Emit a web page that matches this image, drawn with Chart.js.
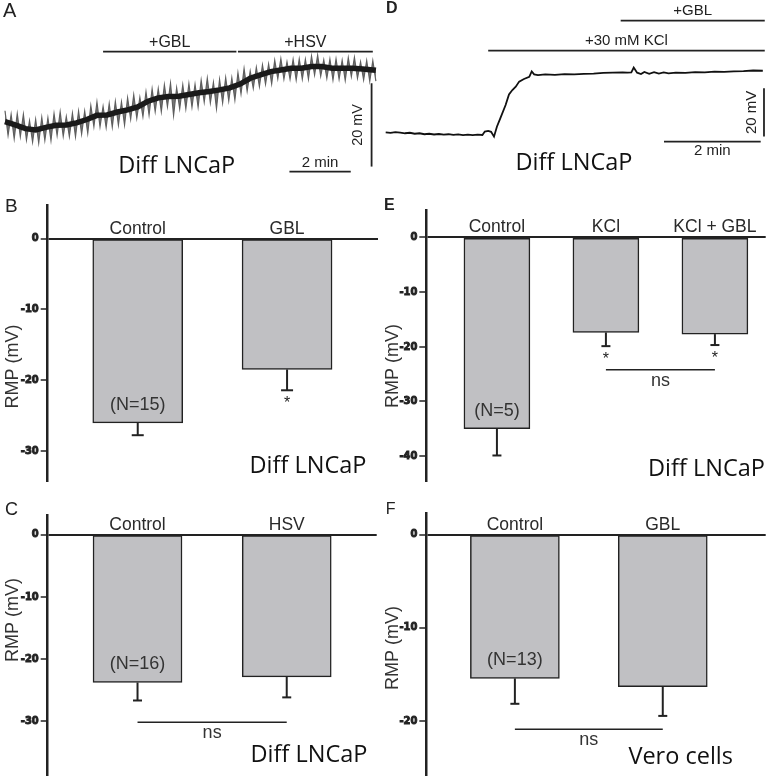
<!DOCTYPE html>
<html><head><meta charset="utf-8">
<script src="https://cdn.jsdelivr.net/npm/chart.js@4/dist/chart.umd.min.js"></script>
<style>
html,body{margin:0;padding:0;background:#fff;}
#wrap{position:relative;width:768px;height:784px;overflow:hidden;background:#fff;}
canvas{position:absolute;}
</style></head><body>
<div id="wrap">
<canvas id="cA" width="384" height="190" style="left:0;top:0"></canvas>
<canvas id="cD" width="384" height="190" style="left:384px;top:0"></canvas>
<canvas id="cB" width="384" height="300" style="left:0;top:190px"></canvas>
<canvas id="cE" width="384" height="300" style="left:384px;top:190px"></canvas>
<canvas id="cC" width="384" height="294" style="left:0;top:490px"></canvas>
<canvas id="cF" width="384" height="294" style="left:384px;top:490px"></canvas>
</div>
<script>
// ---------------- DATA ----------------
// Panel A: membrane potential trace (minutes, mV)
const traceA_rawTime = [0,0.1,0.2,0.3,0.4,0.5,0.6,0.7,0.8,0.9,1.0,1.1,1.2,1.3,1.4,1.5,1.6,1.7,1.8,1.9,2.0,2.1,2.2,2.3,2.4,2.5,2.6,2.7,2.8,2.9,3.0,3.1,3.2,3.3,3.4,3.5,3.6,3.7,3.8,3.9,4.0,4.1,4.2,4.3,4.4,4.5,4.6,4.7,4.8,4.9,5.0,5.1,5.2,5.3,5.4,5.5,5.6,5.7,5.8,5.9,6.0,6.1,6.2,6.3,6.4,6.5,6.6,6.7,6.8,6.9,7.0,7.1,7.2,7.3,7.4,7.5,7.6,7.7,7.8,7.9,8.0,8.1,8.2,8.3,8.4,8.5,8.6,8.7,8.8,8.9,9.0,9.1,9.2,9.3,9.4,9.5,9.6,9.7,9.8,9.9,10.0,10.1,10.2,10.3,10.4,10.5,10.6,10.7,10.8,10.9,11.0,11.1,11.2,11.3,11.4,11.5,11.6,11.7,11.8,11.9,12.0,12.1];
const traceA_rawMV = [-23.3,-29.2,-24.2,-30.0,-24.0,-29.5,-24.2,-30.3,-25.7,-30.8,
 -25.4,-31.0,-24.9,-30.4,-25.0,-30.4,-24.0,-29.2,-23.6,-29.4,
 -24.7,-29.5,-23.9,-29.5,-23.4,-28.9,-23.4,-28.7,-22.1,-27.1,
 -21.2,-27.1,-22.3,-27.3,-21.6,-27.2,-21.1,-26.7,-21.2,-26.7,
 -20.2,-25.3,-19.5,-25.1,-20.1,-24.7,-18.8,-24.3,-18.1,-23.5,
 -18.0,-23.5,-17.1,-22.3,-16.7,-24.4,-17.8,-22.8,-17.1,-22.8,
 -16.8,-22.4,-17.0,-22.4,-16.0,-21.2,-15.5,-21.4,-16.5,-22.8,
 -15.8,-21.4,-15.4,-20.9,-15.4,-20.7,-14.2,-19.2,-13.2,-18.6,
 -13.8,-17.9,-12.9,-17.5,-12.3,-16.9,-12.1,-16.8,-11.2,-15.6,
 -10.8,-15.7,-11.6,-15.7,-11.0,-15.9,-10.9,-15.7,-11.0,-15.7,
 -10.2,-14.7,-10.0,-15.0,-11.1,-15.5,-10.9,-15.9,-10.9,-15.7,
 -11.2,-16.0,-10.6,-15.1,-10.5,-15.5,-11.6,-15.9,-11.3,-16.2,
 -11.3,-16.2];
const traceA_meanTime = [0,0.33,0.67,1,1.33,1.67,2,2.33,2.67,3,3.33,3.67,4,4.33,4.67,5,5.33,5.67,6,6.33,6.67,7,7.33,7.67,8,8.33,8.67,9,9.33,9.67,10,10.33,10.67,11,11.33,11.67,12,12.1];
const traceA_meanMV = [-25.9,-26.7,-27.6,-27.9,-27.3,-26.8,-26.7,-26.2,-25.4,-24.4,-24.3,-23.6,-23.1,-22.4,-21.0,-20.2,-19.9,-19.8,-19.4,-19.0,-18.7,-18.3,-17.8,-16.9,-15.5,-14.7,-13.9,-13.5,-13.1,-13.1,-12.7,-12.7,-13.1,-13.1,-13.1,-13.3,-13.5,-13.6];
const treatA_labels = ['+GBL','+HSV'];
const treatA_start = [3.2, 7.6];
const treatA_end = [7.55, 12.0];

// Panel D: trace with KCl then GBL
const traceD_time = [0,0.1,0.2,0.3,0.4,0.5,0.6,0.7,0.8,0.9,1.0,1.1,1.2,1.3,1.4,1.5,1.6,1.7,1.8,1.9,2.0,2.05,2.12,2.18,2.24,2.3,2.37,2.48,2.55,2.62,2.69,2.76,2.86,2.97,3.02,3.07,3.15,3.3,3.5,3.7,3.9,4.1,4.3,4.5,4.7,4.9,5.0,5.08,5.13,5.2,5.28,5.35,5.45,5.55,5.65,5.75,5.85,6.0,6.2,6.4,6.6,6.8,7.0,7.2,7.4,7.6,7.8];
const traceD_mV = [-34.6,-34.8,-34.5,-34.7,-35.0,-34.8,-35.2,-35.0,-35.4,-35.2,-35.5,-35.3,-35.6,-35.4,-35.7,-35.5,-35.8,-35.6,-35.8,-35.6,-35.7,
 -34.3,-34.0,-34.4,-36.4,-32.3,-28.8,-23.3,-18.9,-17.1,-15.7,-13.6,-12.5,-11.6,-9.4,-10.6,-10.9,
 -10.6,-10.8,-10.5,-10.6,-10.4,-10.3,-10.0,-9.9,-9.8,
 -9.9,-9.8,-7.8,-9.9,-10.5,-9.6,-10.4,-9.7,-10.3,-9.8,-10.2,
 -9.9,-10.0,-9.7,-9.8,-9.5,-9.6,-9.4,-9.3,-9.0,-9.1];
const treatD_labels = ['+30 mM KCl','+GBL'];
const treatD_start = [2.12, 4.86];
const treatD_end = [7.84, 7.84];

const scaleBarMV = 20;   // mV
const scaleBarMin = 2;   // min

// Bar panels: resting membrane potential (mV)
const yTitle = 'RMP (mV)';
const catB = ['Control','GBL'];
const valB = [-26.05, -18.5];
const errB = [1.75, 2.95];
const sigB = ['', '*'];
const nB = '(N=15)';

const catC = ['Control','HSV'];
const valC = [-23.8, -22.9];
const errC = [2.9, 3.3];
const sigC = ['', ''];
const nC = '(N=16)';
const nsC = [0, 1];

const catE = ['Control','KCl','KCl + GBL'];
const valE = [-35.0, -17.4, -17.7];
const errE = [4.9, 2.5, 2.0];
const sigE = ['', '*', '*'];
const nE = '(N=5)';
const nsE = [1, 2];

const catF = ['Control','GBL'];
const valF = [-15.45, -16.33];
const errF = [2.73, 3.15];
const sigF = ['', ''];
const nF = '(N=13)';
const nsF = [0, 1];

// ---------------- DRAWING ----------------
Chart.defaults.font.family = "Arial, 'Liberation Sans', sans-serif";
Chart.defaults.color = '#222';
const INK = '#222';
const SANS = "Arial, 'Liberation Sans', sans-serif";
const CELL = "'Open Sans', 'Noto Sans', sans-serif";

function drawText(ctx, s, x, y, font, align, baseline, rot, color) {
  ctx.save();
  ctx.font = font; ctx.fillStyle = color || INK;
  ctx.textAlign = align || 'center'; ctx.textBaseline = baseline || 'alphabetic';
  if (rot) { ctx.translate(x, y); ctx.rotate(rot); ctx.fillText(s, 0, 0); }
  else ctx.fillText(s, x, y);
  ctx.restore();
}
function seg(ctx, x1, y1, x2, y2, w) {
  ctx.save(); ctx.strokeStyle = INK; ctx.lineWidth = w; ctx.lineCap = 'butt';
  ctx.beginPath(); ctx.moveTo(x1, y1); ctx.lineTo(x2, y2); ctx.stroke(); ctx.restore();
}

function makeBarPanel(id, d, L) {
  const points = d.values.map((v, i) => ({ x: i, y: v }));
  new Chart(document.getElementById(id), {
    type: 'bar',
    data: { datasets: [{ data: points, backgroundColor: '#c0c0c3', borderColor: INK,
      borderWidth: 1.5, borderSkipped: false, barThickness: L.barPx }] },
    options: {
      responsive: false, animation: false,
      layout: { padding: L.pad },
      plugins: { legend: { display: false }, tooltip: { enabled: false } },
      scales: {
        x: { type: 'linear', display: false, min: L.xMin, max: L.xMax, offset: false, grid: { offset: false } },
        y: {
          min: L.yMin, max: L.yMax,
          afterFit: s => { s.width = L.axisW; },
          border: { display: true, color: INK, width: 2.5 },
          grid: { color: c => (c.tick && c.tick.value === 0) ? INK : 'rgba(0,0,0,0)', lineWidth: 2,
                  tickColor: INK, tickLength: 7, tickWidth: 1.5, drawTicks: true },
          ticks: { stepSize: 10, includeBounds: false, padding: 2, color: INK,
                   textStrokeColor: INK, textStrokeWidth: 0.9,
                   font: { family: "'Liberation Sans Narrow','Arial Narrow','DejaVu Sans Condensed',sans-serif", weight: 'bold', size: 11 } }
        }
      }
    },
    plugins: [{
      id: 'annot_' + id,
      afterDatasetsDraw(chart) {
        const ctx = chart.ctx, xs = chart.scales.x, ys = chart.scales.y;
        const y0 = ys.getPixelForValue(0);
        d.values.forEach((v, i) => {
          const xp = xs.getPixelForValue(i);
          const yb = ys.getPixelForValue(v);
          const ye = ys.getPixelForValue(v - d.errors[i]);
          seg(ctx, xp, yb, xp, ye, 2);
          seg(ctx, xp - L.cap / 2, ye, xp + L.cap / 2, ye, 2);
          if (d.sig[i]) drawText(ctx, d.sig[i], xp, ye + 18, '16px ' + SANS);
          drawText(ctx, d.categories[i], xp, y0 - 5, '17.5px ' + SANS, 'center', 'alphabetic', 0, '#2a2a2a');
        });
        drawText(ctx, d.nText, xs.getPixelForValue(0), ys.getPixelForValue(d.values[0]) - 13, '18px ' + SANS, 'center', 'alphabetic', 0, '#333');
        if (d.ns) {
          const a = xs.getPixelForValue(d.ns[0]), b = xs.getPixelForValue(d.ns[1]);
          const yl = ys.getPixelForValue(L.nsLevel);
          seg(ctx, a, yl, b, yl, 1.5);
          drawText(ctx, 'ns', (a + b) / 2, yl + 16, '18px ' + SANS, 'center', 'alphabetic', 0, '#333');
        }
        drawText(ctx, yTitle, L.titleX, L.titleY, '18px ' + SANS, 'center', 'middle', -Math.PI / 2, '#333');
        drawText(ctx, L.letter, L.letterX, L.letterY, L.letterFont, 'left');
        drawText(ctx, L.cell, L.cellX, L.cellY, '23.5px ' + CELL, 'center', 'alphabetic', 0, '#111');
      }
    }]
  });
}

function makeTracePanel(id, series, tr, T) {
  new Chart(document.getElementById(id), {
    type: 'line',
    data: { datasets: series.map(s => ({
      data: s.t.map((t, i) => ({ x: t, y: s.v[i] })),
      borderColor: s.color, borderWidth: s.width, pointRadius: 0, tension: 0,
      fill: s.fill === undefined ? false : s.fill, backgroundColor: s.bg || 'transparent'
    })) },
    options: {
      responsive: false, animation: false,
      layout: { padding: 0 },
      plugins: { legend: { display: false }, tooltip: { enabled: false } },
      scales: {
        x: { type: 'linear', display: false, min: T.xMin, max: T.xMax },
        y: { type: 'linear', display: false, min: T.yMin, max: T.yMax }
      }
    },
    plugins: [{
      id: 'annot_' + id,
      afterDatasetsDraw(chart) {
        const ctx = chart.ctx, xs = chart.scales.x, ys = chart.scales.y;
        tr.labels.forEach((lab, i) => {
          const x1 = xs.getPixelForValue(tr.start[i]), x2 = xs.getPixelForValue(tr.end[i]);
          const yl = ys.getPixelForValue(T.levels[i]);
          seg(ctx, x1, yl, x2, yl, 1.8);
          drawText(ctx, lab, (x1 + x2) / 2, yl - T.labelGap, T.labelFont);
        });
        // vertical scale bar
        const vx = xs.getPixelForValue(T.vbarT);
        const vy1 = ys.getPixelForValue(T.vbarTop), vy2 = ys.getPixelForValue(T.vbarTop - scaleBarMV);
        seg(ctx, vx, vy1, vx, vy2, 1.8);
        drawText(ctx, scaleBarMV + ' mV', vx + T.vLabelDx, (vy1 + vy2) / 2, T.scaleFontV, 'center', 'middle', -Math.PI / 2);
        // horizontal scale bar
        const hy = ys.getPixelForValue(T.hbarMV);
        const hx1 = xs.getPixelForValue(T.hbarT), hx2 = xs.getPixelForValue(T.hbarT + scaleBarMin);
        seg(ctx, hx1, hy, hx2, hy, 1.8);
        drawText(ctx, scaleBarMin + ' min', (hx1 + hx2) / 2, hy + T.hLabelDy, T.scaleFontH);
        drawText(ctx, T.letter, T.letterX, T.letterY, T.letterFont, 'left');
        drawText(ctx, T.cell, T.cellX, T.cellY, '23.5px ' + CELL, 'center', 'alphabetic', 0, '#111');
      }
    }]
  });
}

// Panel A
makeTracePanel('cA',
  [ { t: traceA_meanTime, v: traceA_meanMV, color: '#1a1a1a', width: 5.5 },
    { t: traceA_rawTime, v: traceA_rawMV, color: '#5e5e5e', width: 1.2, fill: 0, bg: '#767676' } ],
  { labels: treatA_labels, start: treatA_start, end: treatA_end },
  { xMin: -0.163, xMax: 12.365, yMin: -42.32, yMax: 3.28,
    levels: [-9.13, -9.13], labelGap: 5, labelFont: '16px ' + SANS,
    vbarT: 11.96, vbarTop: -16.7, vLabelDx: -13.5, scaleFontV: '14.5px ' + SANS,
    hbarMV: -37.93, hbarT: 9.28, hLabelDy: -5, scaleFontH: '15px ' + SANS,
    letter: 'A', letterX: 3, letterY: 16.7, letterFont: '20px ' + SANS,
    cell: 'Diff LNCaP', cellX: 176.7, cellY: 173.3 });

// Panel D
makeTracePanel('cD',
  [ { t: traceD_time, v: traceD_mV, color: '#111', width: 1.8 } ],
  { labels: treatD_labels, start: treatD_start, end: treatD_end },
  { xMin: -0.035, xMax: 7.907, yMin: -58.5, yMax: 20.2,
    levels: [-0.8, 11.63], labelGap: 5.7, labelFont: '15px ' + SANS,
    vbarT: 7.824, vbarTop: -16.37, vLabelDx: -11.7, scaleFontV: '15px ' + SANS,
    hbarMV: -38.48, hbarT: 5.756, hLabelDy: 13.3, scaleFontH: '15px ' + SANS,
    letter: 'D', letterX: 2, letterY: 13.3, letterFont: 'bold 16px ' + SANS,
    cell: 'Diff LNCaP', cellX: 190, cellY: 170 });

// Panel B
makeBarPanel('cB',
  { categories: catB, values: valB, errors: errB, sig: sigB, nText: nB, ns: null },
  { pad: { top: 15, bottom: 5, right: 6, left: 0 }, axisW: 47.7, xMin: -0.603, xMax: 1.609,
    yMin: -34.33, yMax: 4.74, barPx: 90, cap: 12, titleX: 13, titleY: 176.5,
    letter: 'B', letterX: 5, letterY: 21.7, letterFont: '19px ' + SANS,
    cell: 'Diff LNCaP', cellX: 308, cellY: 283.3 });

// Panel C
makeBarPanel('cC',
  { categories: catC, values: valC, errors: errC, sig: sigC, nText: nC, ns: nsC },
  { pad: { top: 25, bottom: 2.3, right: 7.3, left: 0 }, axisW: 47.7, xMin: -0.602, xMax: 1.603,
    yMin: -38.75, yMax: 3.14, barPx: 89, cap: 9, nsLevel: -30.2, titleX: 13, titleY: 130,
    letter: 'C', letterX: 5, letterY: 25, letterFont: '18px ' + SANS,
    cell: 'Diff LNCaP', cellX: 309, cellY: 271.7 });

// Panel E
makeBarPanel('cE',
  { categories: catE, values: valE, errors: errE, sig: sigE, nText: nE, ns: nsE },
  { pad: { top: 20, bottom: 5, right: 2.3, left: 0 }, axisW: 42.3, xMin: -0.648, xMax: 2.466,
    yMin: -44.64, yMax: 5.0, barPx: 66, cap: 9, nsLevel: -24.2, titleX: 9, titleY: 176,
    letter: 'E', letterX: 0, letterY: 20, letterFont: 'bold 16px ' + SANS,
    cell: 'Diff LNCaP', cellX: 322.5, cellY: 286 });

// Panel F
makeBarPanel('cF',
  { categories: catF, values: valF, errors: errF, sig: sigF, nText: nF, ns: nsF },
  { pad: { top: 23.3, bottom: 2.3, right: 2.3, left: 0 }, axisW: 42.3, xMin: -0.599, xMax: 1.696,
    yMin: -25.87, yMax: 2.28, barPx: 89, cap: 9, nsLevel: -20.9, titleX: 9, titleY: 158,
    letter: 'F', letterX: 1.7, letterY: 24, letterFont: '16px ' + SANS,
    cell: 'Vero cells', cellX: 296.7, cellY: 274 });
</script>
</body></html>
